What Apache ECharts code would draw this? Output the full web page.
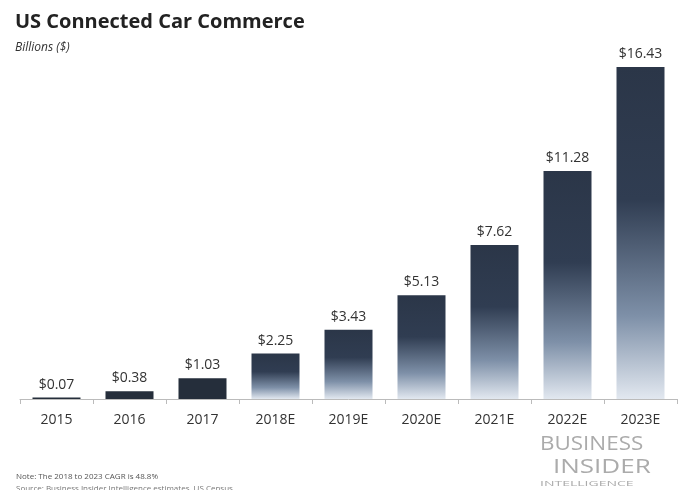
<!DOCTYPE html>
<html><head><meta charset="utf-8">
<script src="https://cdn.jsdelivr.net/npm/echarts@6/dist/echarts.min.js"></script>
<style>html,body{margin:0;padding:0;background:#fff}#c{width:687px;height:490px}</style>
</head><body><div id="c"></div>
<script>
const categories = ['2015','2016','2017','2018E','2019E','2020E','2021E','2022E','2023E'];
const values = [0.07,0.38,1.03,2.25,3.43,5.13,7.62,11.28,16.43];
const estimated = [false,false,false,true,true,true,true,true,true];

const chart = echarts.init(document.getElementById('c'));
const font = '"Open Sans", "Liberation Sans", sans-serif';
const gradient = new echarts.graphic.LinearGradient(0,0,0,1,[
  {offset:0,color:'#2b3648'},
  {offset:0.4,color:'#303d52'},
  {offset:0.75,color:'#7e90a8'},
  {offset:1,color:'#e2e8f0'}
]);
chart.setOption({
  animation:false,
  backgroundColor:'#fff',
  title:{text:'US Connected Car Commerce',subtext:'Billions ($)',left:10,top:7,itemGap:10,
    textStyle:{fontFamily:font,fontSize:20,fontWeight:'bold',color:'#222'},
    subtextStyle:{fontFamily:font,fontSize:12,fontStyle:'italic',color:'#333'}},
  grid:{left:20,right:10,top:67,bottom:91},
  xAxis:{type:'category',data:categories,
    axisLine:{lineStyle:{color:'#bbb'}},
    axisTick:{show:true,lineStyle:{color:'#bbb'},length:5},
    axisLabel:{fontFamily:font,fontSize:14,color:'#333',margin:14}},
  yAxis:{type:'value',min:0,max:16.43,show:false},
  series:[{type:'bar',barWidth:48,
    data:values.map((v,i)=>({value:v,itemStyle:{color:estimated[i]?gradient:'#252e3b'}})),
    label:{show:true,position:'top',distance:6,fontFamily:font,fontSize:14,color:'#333',
      formatter:p=>'$'+p.value.toFixed(2)}}],
  graphic:[
    {type:'text',x:540,y:434,scaleX:1.12,style:{text:'BUSINESS',fontFamily:font,fontSize:20,fill:'#ababab'}},
    {type:'text',x:553,y:457,scaleX:1.3,style:{text:'INSIDER',fontFamily:font,fontSize:20,fill:'#ababab'}},
    {type:'text',x:540,y:480,scaleX:1.75,style:{text:'INTELLIGENCE',fontFamily:font,fontSize:8,fill:'#ababab'}},
    {type:'text',left:16,top:473,style:{text:'Note: The 2018 to 2023 CAGR is 48.8%',fontFamily:font,fontSize:8,fill:'#555'}},
    {type:'text',left:16,top:485,style:{text:'Source: Business Insider Intelligence estimates, US Census',fontFamily:font,fontSize:8,fill:'#777'}}
  ]
});
</script></body></html>
